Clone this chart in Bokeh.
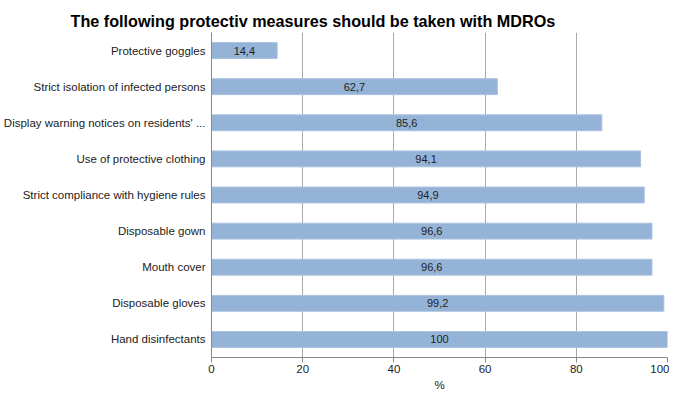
from bokeh.plotting import figure
from bokeh.models import ColumnDataSource, FactorRange, Range1d
from bokeh.core.properties import value
from bokeh.embed import file_html
from bokeh.resources import INLINE

categories = ["Protective goggles", "Strict isolation of infected persons",
              "Display warning notices on residents' ...", "Use of protective clothing",
              "Strict compliance with hygiene rules", "Disposable gown", "Mouth cover",
              "Disposable gloves", "Hand disinfectants"]
values = [14.4, 62.7, 85.6, 94.1, 94.9, 96.6, 96.6, 99.2, 100]
labels = ["14,4", "62,7", "85,6", "94,1", "94,9", "96,6", "96,6", "99,2", "100"]
x_ticks = [0, 20, 40, 60, 80, 100]
title_text = "The following protectiv measures should be taken with MDROs"
x_title = "%"

FONT = "Liberation Sans"
factors = list(reversed(categories))

src = ColumnDataSource(dict(cat=categories, val=values, lab=labels,
                            mid=[v / 2 for v in values]))

p = figure(width=669, height=393, output_backend="svg", toolbar_location=None,
           y_range=FactorRange(factors=factors, range_padding=0),
           x_range=Range1d(0, 100),
           min_border_left=209, min_border_right=2, min_border_top=32, min_border_bottom=35)
p.outline_line_color = None
p.background_fill_color = "white"

p.hbar(y="cat", right="val", left=0, height=0.44, source=src,
       fill_color="#95B3D7", line_color="#A9C2E0", line_width=1)
p.text(x="mid", y="cat", text="lab", source=src, text_align="center",
       text_baseline="middle", text_font=value(FONT), text_font_size="11px",
       text_color="#222222")

p.title.text = title_text
p.title.text_font = FONT
p.title.text_font_size = "16.2px"
p.title.text_font_style = "bold"
p.title.align = "left"
p.title.offset = -141
p.title.standoff = 2
p.title.vertical_align = "top"
p.title.text_color = "#000000"

p.xaxis.ticker = x_ticks
p.xaxis.axis_label = x_title
p.xaxis.axis_label_text_font = FONT
p.xaxis.axis_label_text_font_style = "normal"
p.xaxis.axis_label_text_font_size = "11.5px"
p.xaxis.axis_label_text_color = "#222222"
p.xaxis.axis_label_standoff = 3
p.xaxis.major_label_text_font = FONT
p.xaxis.major_label_text_font_size = "11.5px"
p.xaxis.major_label_text_color = "#222222"
p.xaxis.axis_line_color = "#888888"
p.xaxis.major_tick_line_color = "#888888"
p.xaxis.major_tick_in = 0
p.xaxis.major_tick_out = 5
p.xaxis.minor_tick_line_color = None
p.xaxis.major_label_standoff = 2

p.yaxis.major_label_text_font = FONT
p.yaxis.major_label_text_font_size = "11.5px"
p.yaxis.major_label_text_color = "#222222"
p.yaxis.axis_line_color = "#888888"
p.yaxis.major_tick_line_color = None
p.yaxis.major_tick_out = 0
p.yaxis.major_label_standoff = 6

p.xgrid.grid_line_color = "#AAAAAA"
p.xgrid.grid_line_width = 1
p.ygrid.grid_line_color = None

open("out.html", "w").write(file_html(p, INLINE))
